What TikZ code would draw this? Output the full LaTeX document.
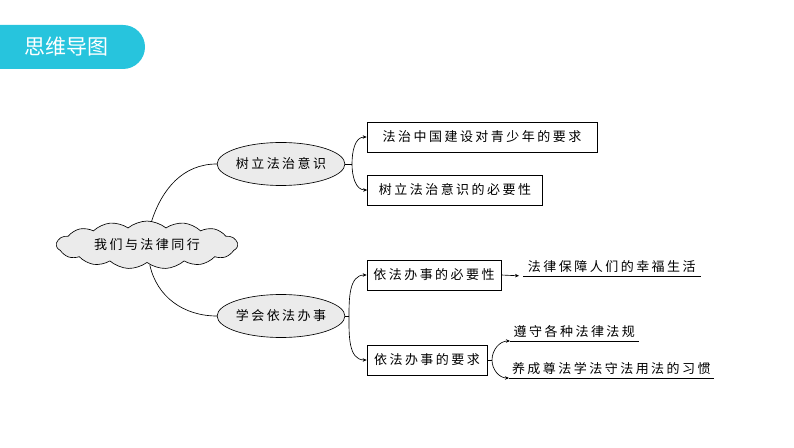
\documentclass[tikz,border=0pt]{standalone}
\usepackage{fontspec}
\newfontfamily\cjk[LetterSpace=19]{Noto Sans CJK SC}
\newfontfamily\cjkhead{Noto Sans CJK SC}
\usetikzlibrary{positioning, arrows.meta, shapes.geometric, shapes.symbols}
\newcommand{\branchtip}{-{Stealth[length=4pt,width=3.5pt]}}
\definecolor{headcyan}{HTML}{27C4DD}
\definecolor{bubblegray}{HTML}{EBEBEB}
\tikzset{
  mapfont/.style={font=\cjk\fontsize{13}{13}\selectfont},
  rootcloud/.style={cloud, draw, fill=bubblegray, cloud puffs=15, cloud puff arc=80,
    aspect=4, minimum width=181pt, minimum height=45pt, inner sep=0pt, mapfont},
  bubble/.style={ellipse, draw, fill=bubblegray, minimum width=113pt,
    minimum height=43pt, inner sep=0pt, mapfont},
  topicbox/.style={rectangle, draw, fill=white, minimum height=30pt, inner sep=0pt, mapfont},
  leafline/.style={anchor=south west, inner xsep=0pt, inner ysep=3pt, mapfont},
}

\begin{document}
\begin{tikzpicture}[x=1pt, y=1pt, line width=0.65pt]
            \useasboundingbox (0,0) rectangle (794,447);
            \fill[headcyan] (0,378) -- (123,378) arc[start angle=-90, end angle=90, radius=22] -- (0,422) -- cycle;
            \node[text=white, font=\cjkhead\fontsize{21}{21}\selectfont] (head) at (66,400) {思维导图};

            \node[rootcloud] (root) at (147,202) {我们与法律同行};
            \node[bubble] (ideaA) at (281,283) {树立法治意识};
            \node[bubble] (ideaB) at (281,131) {学会依法办事};

            \node[topicbox, minimum width=230pt] (boxA) at (482,310) {法治中国建设对青少年的要求};
            \node[topicbox, minimum width=175pt] (boxB) at (455,257) {树立法治意识的必要性};
            \node[topicbox, minimum width=134pt] (boxC) at (434,172) {依法办事的必要性};
            \node[topicbox, minimum width=120pt] (boxD) at (427,87) {依法办事的要求};

            \node[leafline, minimum width=177pt] (lawA) at (523,171) {法律保障人们的幸福生活};
            \node[leafline, minimum width=128pt] (lawB) at (510,106) {遵守各种法律法规};
            \node[leafline, minimum width=204pt] (lawC) at (509,69) {养成尊法学法守法用法的习惯};
            \draw (lawA.south west) -- (lawA.south east);
            \draw (lawB.south west) -- (lawB.south east);
            \draw (lawC.south west) -- (lawC.south east);

            \coordinate (forkA) at (352,283);
            \coordinate (forkB) at (349,131);
            \coordinate (forkC) at (492,87);

            \draw (root.79) to[out=72, in=180] (ideaA.west);
            \draw (root.-82) to[out=-78, in=180] (ideaB.west);

            \draw (ideaA.east) -- (forkA);
            \draw[\branchtip] (forkA) to[out=90, in=180] (boxA.west);
            \draw[\branchtip] (forkA) to[out=-90, in=180] (boxB.west);

            \draw (ideaB.east) -- (forkB);
            \draw[\branchtip] (forkB) to[out=90, in=180] (boxC.west);
            \draw[\branchtip] (forkB) to[out=-90, in=180] (boxD.west);

            \draw[\branchtip, shorten >=4pt] (boxC.east) -- (lawA.south west);
            \draw (boxD.east) -- (forkC);
            \draw[\branchtip] (forkC) to[out=90, in=180] (lawB.south west);
            \draw[\branchtip] (forkC) to[out=-90, in=180] (lawC.south west);
        \end{tikzpicture}
\end{document}
